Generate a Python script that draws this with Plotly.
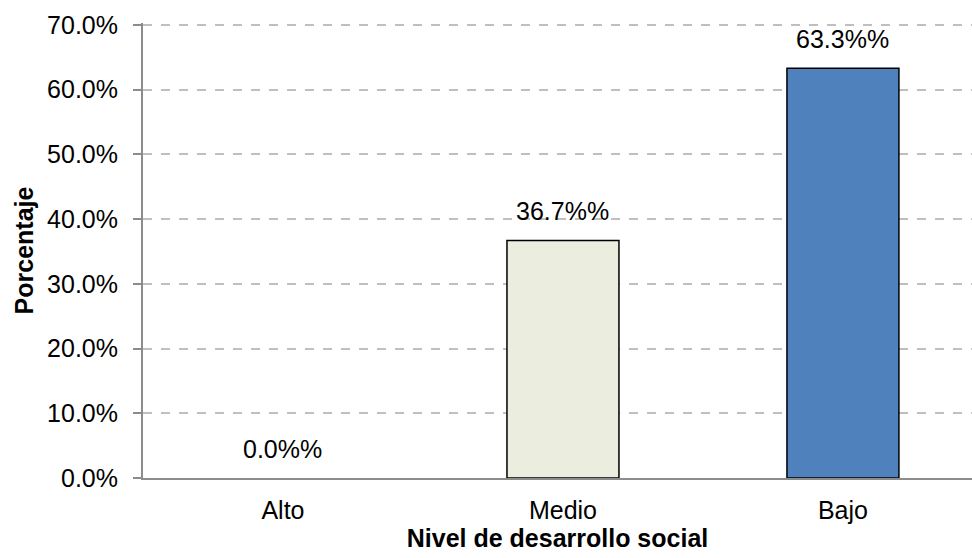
import plotly.graph_objects as go

categories = ["Alto", "Medio", "Bajo"]
values = [0.0, 36.7, 63.3]
labels = ["0.0%%", "36.7%%", "63.3%%"]
bar_colors = ["#EBEEDF", "#EBEEDF", "#4F81BD"]
bar_line_widths = [0, 1.5, 1.5]
tick_vals = [0, 10, 20, 30, 40, 50, 60, 70]
tick_text = ["0.0%", "10.0%", "20.0%", "30.0%", "40.0%", "50.0%", "60.0%", "70.0%"]

FONT = "Liberation Sans, Arial, sans-serif"
FS = 25

fig = go.Figure()
fig.add_trace(go.Bar(
    x=categories, y=values, width=0.4,
    marker=dict(color=bar_colors, line=dict(color="#000000", width=bar_line_widths)),
    showlegend=False, hoverinfo="skip",
))
for c, v, t in zip(categories, values, labels):
    fig.add_annotation(x=c, y=v, text=t, showarrow=False, yanchor="bottom",
                       yshift=13, font=dict(family=FONT, size=FS, color="#000000"))

fig.update_layout(
    width=972, height=558,
    margin=dict(l=143, r=0, t=23, b=80),
    paper_bgcolor="white", plot_bgcolor="white",
    font=dict(family=FONT, size=FS, color="#000000"),
    bargap=0.6,
)
fig.update_xaxes(
    range=[-0.5, 2.461], automargin=False,
    showline=True, linecolor="#8C8C8C", linewidth=2,
    ticks="", showgrid=False,
    ticklabelstandoff=9,
    tickfont=dict(family=FONT, size=FS),
    title=dict(text="<b>Nivel de desarrollo social</b>", standoff=2,
               font=dict(family=FONT, size=FS)),
)
fig.update_yaxes(
    range=[0, 70.3], automargin=False,
    tickvals=tick_vals, ticktext=tick_text,
    showline=True, linecolor="#8C8C8C", linewidth=2,
    ticks="outside", ticklen=8, tickcolor="#8C8C8C", tickwidth=2,
    ticklabelstandoff=10,
    showgrid=True, gridcolor="#BFBFBF", griddash="dash", gridwidth=1.5,
    zeroline=False,
    tickfont=dict(family=FONT, size=FS),
    title=dict(text="<b>Porcentaje</b>", standoff=6,
               font=dict(family=FONT, size=FS)),
)

fig.write_html("out.html", config={"displayModeBar": False},
               post_script="document.body.style.margin='0';")
